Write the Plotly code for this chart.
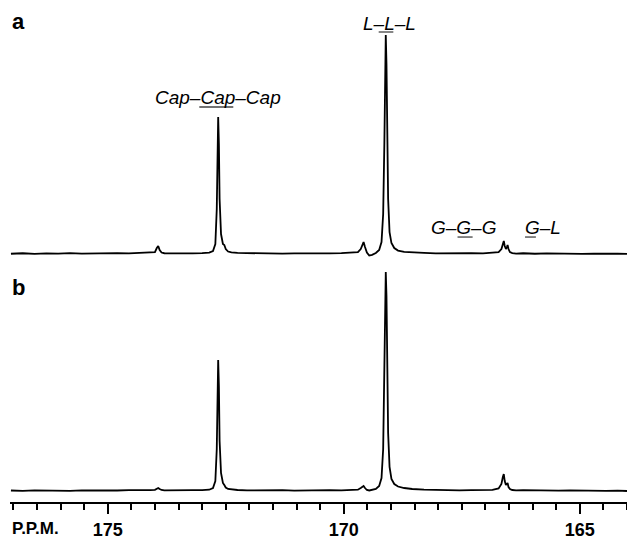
import plotly.graph_objects as go

# Chemical shift grid (ppm) and intensities
ppm = [177.05, 176.8, 176.55, 176.3, 176.05, 175.8, 175.55, 175.3, 175.05, 174.8,
       174.55, 174.3, 174.1, 174.0, 173.96, 173.93, 173.9, 173.86, 173.8, 173.6,
       173.4, 173.2, 173.0, 172.85, 172.77, 172.72, 172.69, 172.675, 172.66, 172.645,
       172.63, 172.6, 172.56, 172.53, 172.5, 172.45, 172.38, 172.25, 172.05, 171.8,
       171.55, 171.3, 171.05, 170.8, 170.55, 170.3, 170.05, 169.85, 169.7, 169.64,
       169.6, 169.58, 169.55, 169.51, 169.46, 169.4, 169.32, 169.25, 169.2, 169.165,
       169.14, 169.125, 169.11, 169.095, 169.08, 169.06, 169.03, 168.99, 168.93, 168.85,
       168.72, 168.55, 168.3, 168.05, 167.8, 167.55, 167.3, 167.05, 166.85, 166.72,
       166.66, 166.63, 166.61, 166.59, 166.565, 166.545, 166.53, 166.51, 166.48, 166.43,
       166.35, 166.2, 165.95, 165.7, 165.45, 165.2, 164.95, 164.7, 164.45, 164.2,
       164.0]

int_a = [0.3, 0.8, 0.2, 0.7, 0.4, 0.9, 0.5, 0.8, 0.6, 1.0,
         0.7, 1.1, 0.9, 1.8, 6, 8, 4, 1.5, 0.8, 0.6,
         0.9, 0.7, 1.0, 1.4, 3, 10, 45, 100, 137, 110,
         55, 20, 10, 9, 5, 2.5, 1.6, 1.1, 0.8, 0.5,
         0.8, 0.4, 0.7, 0.5, 0.8, 0.6, 0.9, 1.2, 2, 5,
         10, 12, 7, 1.5, -1.5, -0.8, 1, 4, 12, 40,
         110, 180, 219, 190, 120, 55, 22, 11, 6, 3.5,
         2.2, 1.5, 1.1, 0.7, 0.9, 0.5, 0.8, 0.6, 1.0, 2,
         5, 11, 13, 8, 5, 7, 9, 5, 2, 1,
         0.5, 0.8, 0.3, 0.6, 0.2, 0.5, 0.1, 0.4, 0.0, 0.3,
         0.1]

int_b = [0.5, 0.2, 0.7, 0.3, 0.6, 0.2, 0.7, 0.4, 0.8, 0.5,
         0.9, 0.6, 0.8, 1.2, 2.5, 3, 2, 1, 0.6, 0.9,
         0.5, 0.8, 0.9, 1.3, 3, 10, 42, 95, 131, 105,
         50, 18, 8, 6, 3.5, 2, 1.4, 1, 0.6, 0.9,
         0.5, 0.8, 0.4, 0.7, 0.5, 0.8, 0.6, 0.9, 1.3, 3,
         5, 5, 3, 1, 0.5, 1, 2, 5, 13, 42,
         115, 185, 219, 195, 125, 58, 24, 12, 7, 4.5,
         3, 2, 1.3, 0.9, 1.1, 0.7, 0.9, 0.6, 1.1, 2.5,
         7, 14, 17, 10, 6, 7, 8, 4, 2, 1,
         0.6, 0.8, 0.4, 0.7, 0.3, 0.6, 0.2, 0.5, 0.1, 0.4,
         0.0]

tick_vals = [175, 170, 165]
tick_text = ["175", "170", "165"]

FONT = "Liberation Sans, Arial, sans-serif"

fig = go.Figure()
fig.add_trace(go.Scatter(x=ppm, y=int_a, mode="lines", xaxis="x", yaxis="y2",
                         line=dict(color="black", width=1.8), hoverinfo="skip"))
fig.add_trace(go.Scatter(x=ppm, y=int_b, mode="lines", xaxis="x", yaxis="y",
                         line=dict(color="black", width=1.8), hoverinfo="skip"))

fig.update_layout(
    width=627, height=539,
    margin=dict(l=10, r=0, t=0, b=37),
    paper_bgcolor="white", plot_bgcolor="white",
    showlegend=False,
    xaxis=dict(range=[177.07, 164.0], anchor="y", showline=True, linewidth=2,
               linecolor="black", ticks="outside", ticklen=10, tickwidth=2,
               tickcolor="black", tickvals=tick_vals, ticktext=tick_text,
               tickfont=dict(family=FONT, size=18, color="black", weight="bold"),
               ticklabelstandoff=0,
               minor=dict(dtick=0.5, ticks="outside", ticklen=6, tickwidth=1.5,
                          tickcolor="black", showgrid=False),
               showgrid=False, zeroline=False, automargin=False),
    yaxis=dict(domain=[0, 0.48], range=[-11, 230], visible=False),
    yaxis2=dict(domain=[0.48, 1], range=[-7, 254], visible=False, anchor="x"),
)

lab_font = dict(family=FONT, size=19, color="black")
labels = [
    ("<i>Cap–Cap–Cap</i>", 172.67, 157),
    ("<i>L–L–L</i>", 169.03, 231),
    ("<i>G–G–G</i>", 167.46, 27),
    ("<i>G–L</i>", 165.79, 27),
]
for txt, xx, yy in labels:
    fig.add_annotation(text=txt, x=xx, y=yy, xref="x", yref="y2", showarrow=False,
                       xanchor="center", yanchor="middle", font=lab_font)

underlines = [(173.06, 172.34, 147), (169.26, 168.95, 222),
              (167.59, 167.27, 17), (166.16, 165.93, 17)]
for x0, x1, yy in underlines:
    fig.add_shape(type="line", x0=x0, x1=x1, y0=yy, y1=yy, xref="x", yref="y2",
                  line=dict(color="#444", width=1.3))

fig.add_annotation(text="<b>a</b>", x=0.013, y=0.958, xref="paper", yref="paper",
                   showarrow=False, xanchor="center", yanchor="middle",
                   font=dict(family=FONT, size=22, color="black"))
fig.add_annotation(text="<b>b</b>", x=0.013, y=0.428, xref="paper", yref="paper",
                   showarrow=False, xanchor="center", yanchor="middle",
                   font=dict(family=FONT, size=22, color="black"))
fig.add_annotation(text="<b>P.P.M.</b>", x=0, y=-0.052, xref="paper", yref="paper",
                   showarrow=False, xanchor="left", yanchor="middle",
                   font=dict(family=FONT, size=17, color="black"))

fig.write_html("out.html")
